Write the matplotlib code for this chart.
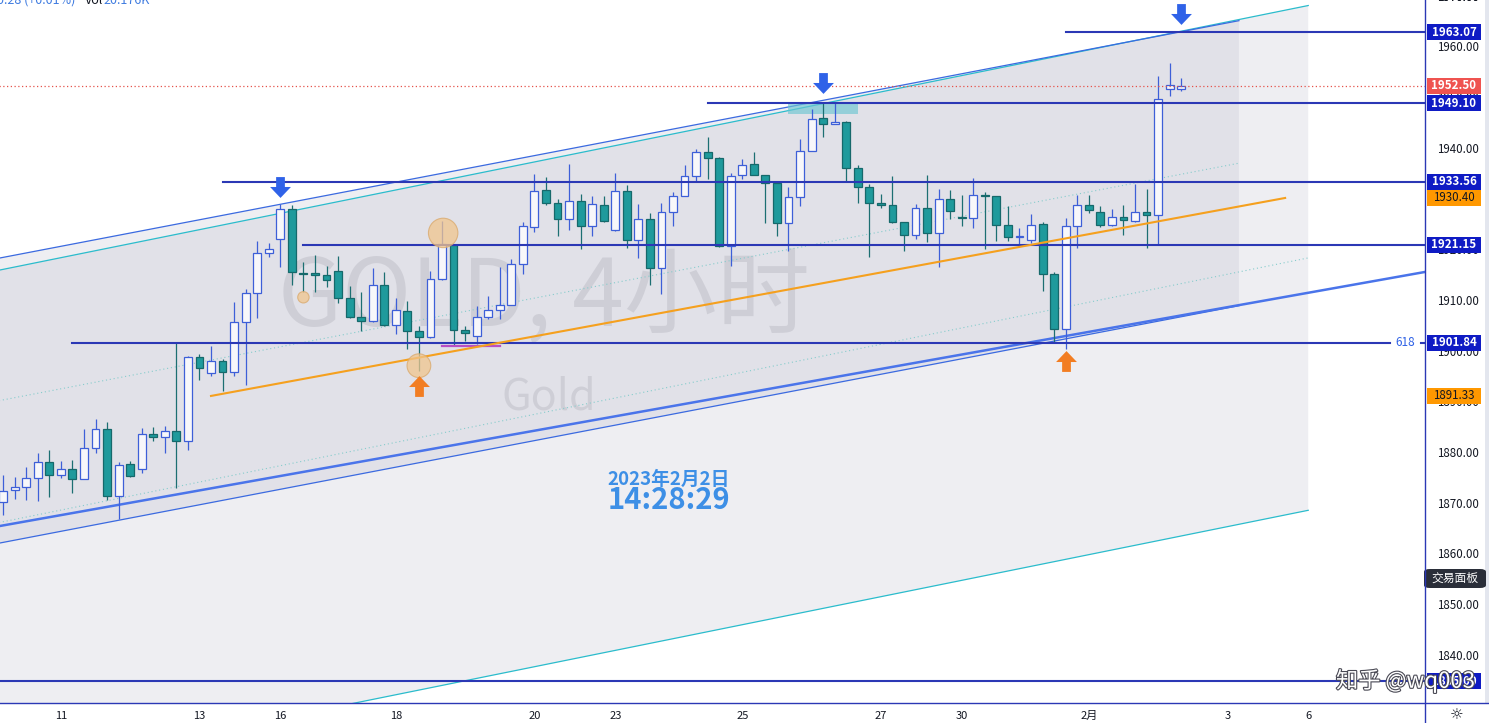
import matplotlib
matplotlib.use('Agg')
import matplotlib.pyplot as plt
import matplotlib.patheffects as pe
from matplotlib.patches import Rectangle, FancyBboxPatch
from matplotlib.lines import Line2D
from matplotlib.transforms import blended_transform_factory

plt.rcParams['font.family'] = ['Noto Sans CJK SC', 'DejaVu Sans']

# GOLD 4h candles, bar index 0..102
opens = [1870.4, 1872.8, 1873.3, 1875.2, 1878.3, 1875.8, 1877.0, 1875.0, 1881.0, 1884.8,
         1871.6, 1877.8, 1876.9, 1883.8, 1883.2, 1884.4, 1882.4, 1899.0, 1895.8, 1898.2,
         1896.0, 1905.9, 1911.6, 1919.6, 1922.4, 1928.3, 1915.6, 1915.5, 1915.2, 1916.0,
         1910.6, 1907.0, 1906.1, 1913.3, 1905.3, 1908.0, 1904.1, 1902.9, 1914.4, 1921.2,
         1904.4, 1903.1, 1907.0, 1908.3, 1909.3, 1917.3, 1924.7, 1932.0, 1929.5, 1926.2,
         1929.8, 1924.8, 1929.0, 1924.1, 1931.7, 1922.2, 1926.2, 1916.5, 1927.7, 1930.8,
         1934.7, 1939.5, 1938.2, 1920.9, 1934.9, 1937.2, 1934.9, 1933.3, 1925.4, 1930.5,
         1939.7, 1946.2, 1945.0, 1945.4, 1936.4, 1932.6, 1929.5, 1929.0, 1925.6, 1923.1,
         1928.4, 1923.5, 1930.2, 1926.5, 1926.4, 1930.9, 1930.7, 1925.0, 1922.6, 1922.1,
         1925.2, 1915.4, 1904.6, 1924.8, 1929.0, 1927.7, 1925.1, 1926.7, 1925.9, 1927.7,
         1927.1, 1952.0, 1951.9]
highs = [1875.8, 1875.3, 1877.3, 1880.0, 1880.6, 1878.4, 1878.6, 1884.8, 1886.8, 1886.1,
         1878.3, 1878.4, 1885.0, 1885.2, 1885.4, 1901.8, 1899.3, 1899.7, 1901.1, 1898.6,
         1909.8, 1912.4, 1921.9, 1921.6, 1929.2, 1929.0, 1917.7, 1919.2, 1916.9, 1919.0,
         1913.1, 1911.8, 1916.6, 1915.7, 1910.6, 1910.1, 1905.2, 1916.0, 1925.9, 1921.3,
         1905.1, 1909.1, 1911.0, 1916.7, 1918.3, 1925.6, 1935.1, 1934.6, 1930.2, 1937.2,
         1931.1, 1930.8, 1930.8, 1935.3, 1932.9, 1929.2, 1927.5, 1929.5, 1931.5, 1937.0,
         1940.1, 1942.5, 1938.4, 1935.4, 1938.0, 1939.5, 1935.0, 1933.4, 1932.6, 1942.0,
         1947.9, 1949.2, 1949.2, 1945.5, 1937.0, 1933.1, 1931.1, 1934.7, 1925.6, 1929.2,
         1934.9, 1932.1, 1931.9, 1930.9, 1934.3, 1931.6, 1930.7, 1928.8, 1924.4, 1927.2,
         1925.6, 1915.7, 1926.4, 1930.9, 1930.9, 1928.8, 1928.2, 1929.0, 1933.1, 1932.1,
         1954.4, 1957.0, 1954.1]
lows = [1867.9, 1870.9, 1870.8, 1870.6, 1871.4, 1875.1, 1872.2, 1875.0, 1880.0, 1870.7,
        1867.0, 1875.3, 1876.2, 1882.4, 1880.0, 1873.1, 1880.6, 1894.4, 1895.3, 1892.3,
        1895.3, 1893.5, 1906.8, 1918.7, 1916.7, 1913.2, 1911.8, 1911.8, 1912.9, 1909.6,
        1906.8, 1904.2, 1906.0, 1905.1, 1903.6, 1900.5, 1896.3, 1902.7, 1914.3, 1901.4,
        1902.2, 1901.6, 1906.5, 1906.5, 1909.3, 1915.4, 1923.6, 1929.0, 1922.9, 1924.1,
        1920.4, 1922.9, 1925.6, 1923.9, 1920.5, 1918.5, 1913.3, 1911.5, 1924.9, 1930.8,
        1933.6, 1934.1, 1920.8, 1917.0, 1934.1, 1934.9, 1925.4, 1922.8, 1919.9, 1928.8,
        1939.6, 1942.4, 1944.9, 1933.8, 1929.4, 1918.7, 1928.5, 1925.5, 1919.9, 1922.3,
        1921.8, 1916.7, 1926.2, 1924.9, 1924.4, 1920.4, 1922.0, 1922.0, 1921.3, 1921.6,
        1912.0, 1901.9, 1900.6, 1920.6, 1927.4, 1924.6, 1924.9, 1923.1, 1925.6, 1920.5,
        1921.2, 1950.6, 1951.6]
closes = [1872.6, 1873.3, 1875.1, 1878.3, 1875.8, 1876.9, 1875.0, 1881.0, 1884.8, 1871.6,
          1877.7, 1875.5, 1883.8, 1883.2, 1884.4, 1882.4, 1899.0, 1896.8, 1898.2, 1896.0,
          1905.9, 1911.6, 1919.6, 1920.4, 1928.3, 1915.7, 1915.4, 1915.2, 1914.2, 1910.6,
          1907.0, 1906.1, 1913.3, 1905.3, 1908.3, 1904.1, 1902.9, 1914.4, 1921.3, 1904.4,
          1903.8, 1907.0, 1908.3, 1909.3, 1917.3, 1924.9, 1931.8, 1929.4, 1926.2, 1929.8,
          1924.9, 1929.2, 1925.8, 1931.7, 1922.2, 1926.2, 1916.5, 1927.7, 1930.7, 1934.7,
          1939.5, 1938.2, 1920.9, 1934.7, 1936.9, 1934.9, 1933.3, 1925.4, 1930.5, 1939.7,
          1946.0, 1945.0, 1945.4, 1936.4, 1932.6, 1929.5, 1929.0, 1925.6, 1923.1, 1928.4,
          1923.5, 1930.2, 1927.9, 1926.4, 1930.9, 1930.7, 1925.0, 1922.6, 1922.8, 1925.1,
          1915.4, 1904.6, 1924.8, 1929.0, 1928.0, 1925.1, 1926.7, 1926.1, 1927.7, 1927.1,
          1950.0, 1952.7, 1952.5]

# time axis labels (bar index)
date_ticks = [5, 17, 24, 34, 46, 53, 64, 76, 83, 94, 106, 113]
date_labels = ['11', '13', '16', '18', '20', '23', '25', '27', '30', '2月', '3', '6']

# price scale
price_ticks = list(range(1840, 1971, 10))

# horizontal levels and the bar they start from
levels = [1963.07, 1949.10, 1933.56, 1921.15, 1901.84, 1835.00]
level_starts = [92, 61, 19, 26, 6, -1]
last_price = 1952.50

# orange trend line
trend_x = [18, 111]
trend_y = [1891.33, 1930.40]

# parallel channels: start bar, end bar, upper at start, upper at end, lower at start, lower at end
chan_a = (-1, 107, 1918.24, 1965.39, 1861.99, 1909.14)
chan_b = (-1, 113, 1915.85, 1968.38, 1816.23, 1868.76)
# long support ray
support_x = [-1, 124]
support_y = [1865.37, 1916.16]

# highlight zone + purple base
zone_x = [68, 74]
zone_y = [1946.9, 1949.1]
base_x = [38, 43]
base_y = 1901.2

# markers
down_arrows_x = [24, 71, 102]
down_arrows_y = [1932.6, 1953.1, 1966.7]
up_arrows_x = [36, 92]
up_arrows_y = [1893.3, 1898.2]
circle_x = [38.1, 36.0, 26.0]
circle_y = [1923.5, 1897.3, 1910.8]
circle_size = [21.2, 17.1, 8.2]

W, H = 1489, 723
AX_R, AX_B = 1425, 703
fig = plt.figure(figsize=(W / 100, H / 100), dpi=100)
ax = fig.add_axes([0, (H - AX_B) / H, AX_R / W, AX_B / H])
ax.set_autoscale_on(False)
ax.set_xlim(-0.27, 123.11)
ax.set_ylim(1830.73, 1969.47)
for s in ax.spines.values():
    s.set_visible(False)
ax.set_xticks([])
ax.set_yticks([])

GRAY = '#b4b4c6'
LINE_DARK = '#2b38b5'

# channels
def draw_channel(ch, line_col, z):
    x0, x1, u0, u1, l0, l1 = ch
    ax.fill([x0, x1, x1, x0], [u0, u1, l1, l0], color=GRAY, alpha=0.22, lw=0, zorder=z)
    ax.plot([x0, x1], [u0, u1], color=line_col, lw=0.9, zorder=2)
    ax.plot([x0, x1], [l0, l1], color=line_col, lw=0.9, zorder=2)
    ax.plot([x0, x1], [(u0 + l0) / 2, (u1 + l1) / 2], color='#86cccc', lw=0.8,
            ls=(0, (1, 2.5)), zorder=2)

draw_channel(chan_b, '#2bbccc', 0.5)
draw_channel(chan_a, '#3b6ae0', 0.6)
ax.plot(support_x, support_y, color='#4a74ea', lw=1.8, zorder=2)

# watermark
ax.text(0.3818, 0.573, 'GOLD, 4小时', transform=ax.transAxes, ha='center', va='center',
        fontsize=67, color='#8c8c99', alpha=0.22, zorder=0.8)
ax.text(0.385, 0.434, 'Gold', transform=ax.transAxes, ha='center', va='center',
        fontsize=31, color='#8c8c99', alpha=0.22, zorder=0.8)

# candles
xs = list(range(len(opens)))
up = [c >= o for o, c in zip(opens, closes)]
for i in xs:
    wc = '#3d5fd8' if up[i] else '#1c6f72'
    ax.vlines(i, lows[i], highs[i], color=wc, lw=0.9, zorder=3)
bottoms = [min(o, c) for o, c in zip(opens, closes)]
heights = [max(abs(c - o), 0.18) for o, c in zip(opens, closes)]
ax.bar(xs, heights, bottom=bottoms, width=0.68,
       color=['#f7f7fa' if u else '#1f9a9c' for u in up],
       edgecolor=['#3d5fd8' if u else '#16696b' for u in up], lw=0.9, zorder=3.5)

# zone + base
ax.fill_between(zone_x, zone_y[0], zone_y[1], color='#6cc6d2', alpha=0.65, lw=0, zorder=2.5)
ax.plot(base_x, [base_y, base_y], color='#b94fc4', lw=1.6, zorder=4)

# horizontal levels
x_gap0 = (1390 - 3.1) / 11.55
x_gap1 = (1421 - 3.1) / 11.55
for lv, st in zip(levels, level_starts):
    if lv == 1901.84:
        ax.plot([st, x_gap0], [lv, lv], color=LINE_DARK, lw=1.5, zorder=4)
        ax.plot([x_gap1, 123.11], [lv, lv], color=LINE_DARK, lw=1.5, zorder=4)
        ax.text((x_gap0 + x_gap1) / 2, lv, '618', ha='center', va='center', fontsize=8.5,
                color='#2f62e6', zorder=4)
    else:
        ax.plot([st, 123.11], [lv, lv], color=LINE_DARK, lw=1.5, zorder=4)

ax.plot(trend_x, trend_y, color='#f5a01e', lw=1.5, zorder=4)
ax.plot([-1, 123.11], [last_price, last_price], color='#e5534b', lw=0.9, ls=(0, (1, 2)), zorder=4)

# circles and arrows
ax.scatter(circle_x, circle_y, s=[d ** 2 for d in circle_size], color='#f0c58e', alpha=0.75,
           edgecolor='#d9a86a', lw=0.8, zorder=5)
arrow_down = [(-0.42, 1), (0.42, 1), (0.42, 0.05), (1, 0.05), (0, -1), (-1, 0.05), (-0.42, 0.05), (-0.42, 1)]
arrow_up = [(x, -y) for x, y in arrow_down]
ax.scatter(down_arrows_x, down_arrows_y, marker=arrow_down, s=15 ** 2, color='#2f62e8', lw=0, zorder=6)
ax.scatter(up_arrows_x, up_arrows_y, marker=arrow_up, s=15 ** 2, color='#f27d22', lw=0, zorder=6)

# clock text
ax.text(0.4695, 0.3186, '2023年2月2日', transform=ax.transAxes, ha='center', va='center',
        fontsize=13.5, fontweight='bold', color='#3d8fe6', zorder=6)
ax.text(0.4695, 0.2888, '14:28:29', transform=ax.transAxes, ha='center', va='center',
        fontsize=21, fontweight='bold', color='#3d8fe6', zorder=6)

# price scale labels
blend = blended_transform_factory(fig.transFigure, ax.transData)
for p in price_ticks + [1970]:
    ax.text(1437 / W, p, '%.2f' % p, transform=blend, ha='left', va='center', fontsize=8.3,
            color='#131722', clip_on=False)

box_h = 16 / 5.067
def price_box(p, face, tc='white', bold=True):
    ax.add_patch(Rectangle((1427 / W, p - box_h / 2), 54 / W, box_h, transform=blend,
                           facecolor=face, edgecolor='none', clip_on=False, zorder=7))
    ax.text(1454 / W, p, '%.2f' % p, transform=blend, ha='center', va='center', fontsize=8.3,
            color=tc, fontweight='bold' if bold else 'normal', clip_on=False, zorder=8)

for lv in levels:
    price_box(lv, '#0f1bc4')
price_box(last_price, '#ef5350')
for p in trend_y:
    price_box(p, '#ff9800', tc='#131722', bold=False)

# time axis labels
tblend = blended_transform_factory(ax.transData, fig.transFigure)
for x, lab in zip(date_ticks, date_labels):
    ax.text(x, 1 - 716 / H, lab, transform=tblend, ha='center', va='center', fontsize=8,
            color='#131722', clip_on=False)

# frame lines
fig.add_artist(Line2D([0, 1], [1 - AX_B / H] * 2, color=LINE_DARK, lw=1))
fig.add_artist(Line2D([AX_R / W] * 2, [0, 1], color=LINE_DARK, lw=1))
fig.add_artist(Rectangle((1485 / W, 1 - AX_B / H), 4 / W, AX_B / H, color='#e3e6ee', lw=0))

# top-left legend line (cut off by the top edge)
fig.text(-3 / W, 1.0, '0.28 (+0.01%)', ha='left', va='center', fontsize=9, color='#3e7be0')
fig.text(85 / W, 1.0, 'Vol', ha='left', va='center', fontsize=9, color='#131722')
fig.text(103 / W, 1.0, '20.176K', ha='left', va='center', fontsize=9, color='#3e7be0')

# trading panel button
fig.add_artist(FancyBboxPatch((1424 / W, 1 - 588 / H), 62 / W, 19 / H,
                              boxstyle='round,pad=0,rounding_size=0.004', color='#2a2e39', lw=0))
fig.text(1455 / W, 1 - 578 / H, '交易面板', ha='center', va='center', fontsize=8.5, color='white')
fig.text(1457 / W, 1 - 715 / H, '☼', ha='center', va='center', fontsize=11, color='#131722',
         family='DejaVu Sans')

# site watermark (white text with dark outline)
wm = fig.text(1336 / W, 1 - 681 / H, '知乎 @wq003', ha='left', va='center', fontsize=16,
              color='white', zorder=20)
wm.set_path_effects([pe.withStroke(linewidth=1.6, foreground='#4a4a55')])

fig.savefig('out.png', dpi=100)
